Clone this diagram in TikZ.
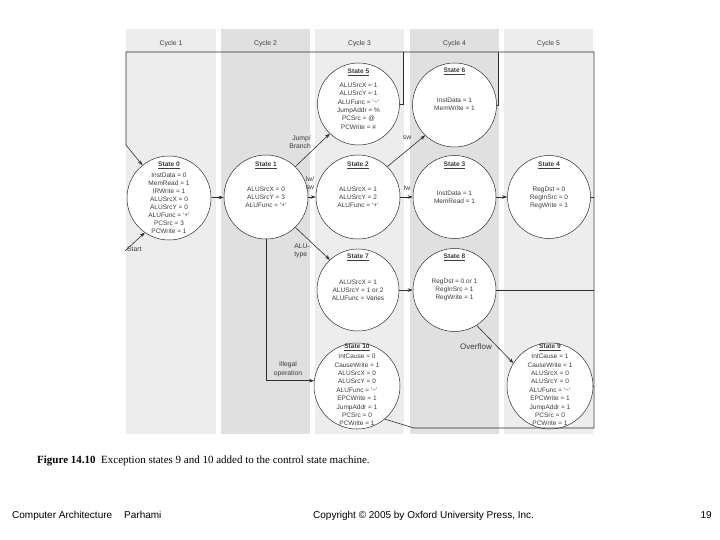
\documentclass[tikz,border=0pt]{standalone}
\usepackage{fontspec}
\setmainfont{Liberation Serif}
\newfontfamily\dsans{Liberation Sans}
\usetikzlibrary{arrows.meta}
\definecolor{bandA}{RGB}{237,237,237}
\definecolor{bandB}{RGB}{224,224,224}
\definecolor{ink}{RGB}{45,45,45}
\definecolor{txt}{RGB}{60,60,60}
\begin{document}
\begin{tikzpicture}[x=1pt,y=-1pt,
  stnode/.style={circle, draw=ink, fill=white, line width=0.5pt, minimum size=84pt, inner sep=0pt},
  ttl/.style={font=\dsans\fontsize{6.6}{7}\selectfont\bfseries, text=txt},
  body/.style={font=\dsans\fontsize{6.5}{8}\selectfont, align=center, text=txt, inner sep=0pt},
  bigbody/.style={font=\dsans\fontsize{6.5}{8.4}\selectfont, align=center, text=txt, inner sep=0pt},
  lbl/.style={font=\dsans\fontsize{6.8}{8.5}\selectfont, text=txt, inner sep=0pt},
  cyc/.style={font=\dsans\fontsize{6.8}{8}\selectfont, text=txt},
  arr/.style={-{Stealth[length=5pt,width=3.5pt]}, draw=ink, line width=0.6pt},
  ln/.style={draw=ink, line width=0.6pt},
  foot/.style={inner sep=0pt, font=\dsans\fontsize{10}{12}\selectfont}]
\useasboundingbox (0,0) rectangle (720,540);
\fill[white] (0,0) rectangle (720,540);
% cycle bands
\fill[bandA] (126,29) rectangle (216,434);
\fill[bandB] (221,29) rectangle (310,434);
\fill[bandA] (315,29) rectangle (404,434);
\fill[bandB] (410,29) rectangle (499,434);
\fill[bandA] (504,29) rectangle (593,434);
\node[cyc] (c1) at (171,44) {Cycle 1};
\node[cyc] (c2) at (265.5,44) {Cycle 2};
\node[cyc] (c3) at (359.5,44) {Cycle 3};
\node[cyc] (c4) at (454.5,44) {Cycle 4};
\node[cyc] (c5) at (548.5,44) {Cycle 5};
% return path corners
\coordinate (tl) at (126,52);
\coordinate (lb) at (126,145);
\coordinate (tr) at (594,52);
\coordinate (br) at (594,428);
\coordinate (bl) at (414,428);
\coordinate (t5) at (403,52);
\coordinate (t6) at (498,52);
\coordinate (st) at (125,251);
% states
\node[stnode, minimum size=84pt] (s0) at (169,198) {};
\node[stnode] (s1) at (266,197) {};
\node[stnode] (s2) at (358,197) {};
\node[stnode, minimum size=83pt] (s3) at (454.5,197) {};
\node[stnode, minimum size=83pt] (s4) at (549,197) {};
\node[stnode, minimum size=82pt] (s5) at (358.5,104) {};
\node[stnode] (s6) at (454.5,105) {};
\node[stnode, minimum size=82pt] (s7) at (358,290) {};
\node[stnode, minimum size=83pt] (s8) at (454.5,290) {};
\node[stnode, minimum size=86pt] (s9) at (550,386) {};
\node[stnode, minimum size=86pt] (s10) at (357,386) {};
% titles
\node[ttl] (s0t) at (169,165) {\underline{State 0}};
\node[ttl] (s1t) at (266,165) {\underline{State 1}};
\node[ttl] (s2t) at (358,165) {\underline{State 2}};
\node[ttl] (s3t) at (454.5,165) {\underline{State 3}};
\node[ttl] (s4t) at (549,165) {\underline{State 4}};
\node[ttl] (s5t) at (358.5,72) {\underline{State 5}};
\node[ttl] (s6t) at (454.5,71) {\underline{State 6}};
\node[ttl] (s7t) at (358,257) {\underline{State 7}};
\node[ttl] (s8t) at (454.5,257) {\underline{State 8}};
\node[ttl] (s9t) at (550,347) {\underline{State 9}};
\node[ttl] (s10t) at (357,347) {\underline{State 10}};
% bodies
\node[body] (s0b) at (169,203.5) {InstData = 0\\MemRead = 1\\IRWrite = 1\\ALUSrcX = 0\\ALUSrcY = 0\\ALUFunc = ‘+’\\PCSrc = 3\\PCWrite = 1};
\node[body] (s1b) at (266,197) {ALUSrcX = 0\\ALUSrcY = 3\\ALUFunc = ‘+’};
\node[body] (s2b) at (358,197) {ALUSrcX = 1\\ALUSrcY = 2\\ALUFunc = ‘+’};
\node[body] (s3b) at (454.5,197) {InstData = 1\\MemRead = 1};
\node[body] (s4b) at (549,198) {RegDst = 0\\RegInSrc = 0\\RegWrite = 1};
\node[bigbody] (s5b) at (358.5,106) {ALUSrcX = 1\\ALUSrcY = 1\\ALUFunc = ‘−’\\JumpAddr = \%\\PCSrc = @\\PCWrite = \#};
\node[body] (s6b) at (454.5,104) {InstData = 1\\MemWrite = 1};
\node[body] (s7b) at (358,290) {ALUSrcX = 1\\ALUSrcY = 1 or 2\\ALUFunc = Varies};
\node[body] (s8b) at (454.5,290) {RegDst = 0 or 1\\RegInSrc = 1\\RegWrite = 1};
\node[bigbody] (s9b) at (550,390) {IntCause = 1\\CauseWrite = 1\\ALUSrcX = 0\\ALUSrcY = 0\\ALUFunc = ‘−’\\EPCWrite = 1\\JumpAddr = 1\\PCSrc = 0\\PCWrite = 1};
\node[bigbody] (s10b) at (357,390) {IntCause = 0\\CauseWrite = 1\\ALUSrcX = 0\\ALUSrcY = 0\\ALUFunc = ‘−’\\EPCWrite = 1\\JumpAddr = 1\\PCSrc = 0\\PCWrite = 1};
% forward transitions
\draw[arr] (st) -- (s0.-125);
\draw[arr] (s0) -- (s1);
\draw[arr] (s1) -- (s2);
\draw[arr] (s2) -- (s3);
\draw[arr] (s3) -- (s4);
\draw[arr] (s7) -- (s8);
\draw[arr] (s1.46) -- (s5.226);
\draw[arr] (s2.46) -- (s6.226);
\draw[arr] (s1.-46) -- (s7.133);
\draw[arr] (s1.south) |- (s10.173);
\draw[arr] (s8.-58) -- (s9.148);
% return path
\draw[ln] (s10.-50) -- (bl) -- (br) -- (tr) -- (tl) -- (lb);
\draw[arr] (lb) -- (s0);
\draw[ln] (s5.east) -| (t5);
\draw[ln] (s6.east) -| (t6);
\draw[ln] (s4.east) -- (s4.east -| tr);
\draw[ln] (s8.east) -- (s8.east -| tr);
\draw[ln] (s9.east) -- (s9.east -| tr);
% labels
\node[lbl, anchor=west] (lstart) at (127,249) {Start};
\node[lbl, align=right, anchor=east] (ljb) at (311,142) {Jump/\\Branch};
\node[lbl, align=left] (llw) at (310,183) {lw/\\sw};
\node[lbl] (lsw) at (407,138) {sw};
\node[lbl] (llw2) at (407,188) {lw};
\node[lbl, align=left] (lalu) at (302,251) {ALU-\\type};
\node[lbl, align=center] (lill) at (288,369) {Illegal\\operation};
\node[lbl, font=\dsans\fontsize{8}{9}\selectfont] (lovf) at (476,347) {Overflow};
% caption and footer
\node[anchor=west, inner sep=0pt, font=\fontsize{11}{13}\selectfont] (cap) at (37,461) {\textbf{Figure 14.10}\ \ Exception states 9 and 10 added to the control state machine.};
\node[foot, anchor=base west] (f1) at (12,518) {Computer Architecture};
\node[foot, anchor=base west] (f2) at (124,518) {Parhami};
\node[foot, anchor=base west] (f3) at (313,518) {Copyright © 2005 by Oxford University Press, Inc.};
\node[foot, anchor=base east] (f4) at (712,518) {19};
\end{tikzpicture}
\end{document}
